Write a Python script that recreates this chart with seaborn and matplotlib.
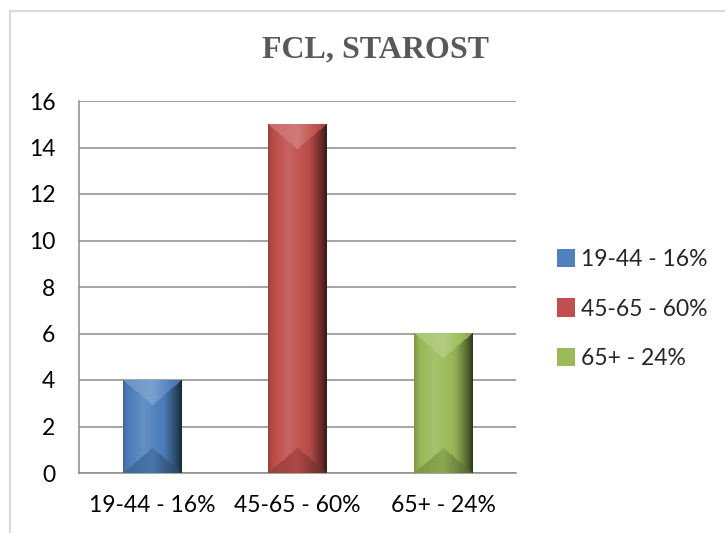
import numpy as np
import matplotlib
matplotlib.use("Agg")
import matplotlib.pyplot as plt
from matplotlib.patches import Patch
from matplotlib.lines import Line2D
import seaborn as sns

# chart data
categories = ["19-44 - 16%", "45-65 - 60%", "65+ - 24%"]
values = [4, 15, 6]
bar_colors = ["#4F81BD", "#C0504D", "#9BBB59"]
title = "FCL, STAROST"

sns.set_theme(style="white")
plt.rcParams['font.family'] = ['Lato', 'DejaVu Sans']

W, H, DPI = 7.25, 5.33, 100
fig = plt.figure(figsize=(W, H), dpi=DPI)
ax = fig.add_axes([79 / 725, 60 / 533, 437 / 725, 372 / 533])

sns.barplot(x=categories, y=values, hue=categories, palette=bar_colors,
            width=0.4, legend=False, ax=ax, linewidth=0)

ax.set_ylim(0, 16)
ax.set_xlim(-0.5, len(categories) - 0.5)
ax.set_yticks(range(0, 17, 2))
ax.yaxis.grid(True, color="#8c8c8c", linewidth=1.1)
ax.set_axisbelow(True)
for side in ["top", "right"]:
    ax.spines[side].set_visible(False)
for side in ["left", "bottom"]:
    ax.spines[side].set_color("#8c8c8c")
    ax.spines[side].set_linewidth(1.1)
ax.tick_params(axis="y", length=0, pad=17, labelsize=16.5, labelcolor="black")
ax.tick_params(axis="x", length=0, pad=16, labelsize=16.5, labelcolor="black")
ax.set_xlabel("")
ax.set_ylabel("")


def shade(rgb, k):
    rgb = np.asarray(rgb)
    if k >= 1:
        return rgb + (1 - rgb) * (k - 1)
    return rgb * k


# bevelled look, painted over each bar seaborn drew
px_x = 437 / (len(categories))          # pixels per x unit
px_y = 372 / 16                         # pixels per y unit
for patch, col in zip(ax.patches, bar_colors):
    x0, w, h = patch.get_x(), patch.get_width(), patch.get_height()
    nw = max(int(round(w * px_x)), 2)
    nh = max(int(round(h * px_y)), 2)
    base = np.array(matplotlib.colors.to_rgb(col))
    t = (np.arange(nw) + 0.5) / nw
    k = np.interp(t, [0, 0.08, 0.35, 0.7, 0.88, 1.0], [0.8, 0.95, 1.12, 0.95, 0.6, 0.3])
    img = np.zeros((nh, nw, 3))
    for i in range(nw):
        img[:, i] = shade(base, k[i])
    u = np.arange(nw) + 0.5
    v = np.arange(nh)[:, None] + 0.5
    half = np.minimum(u, nw - u) / (nw / 2)
    dt = min(25, nh / 2)
    top = v < dt * half
    bot = (nh - v) < dt * half
    ktop = np.interp(t, [0, 0.5, 1.0], [1.15, 1.25, 0.85])
    kbot = np.interp(t, [0, 0.5, 1.0], [0.8, 0.9, 0.5])
    for i in range(nw):
        img[top[:, i], i] = shade(base, ktop[i])
        img[bot[:, i], i] = shade(base, kbot[i])
    ax.imshow(np.clip(img, 0, 1), extent=[x0, x0 + w, 0, h], origin="upper",
              aspect="auto", zorder=3, interpolation="bilinear")

ax.set_ylim(0, 16)
ax.set_xlim(-0.5, len(categories) - 0.5)

handles = [Patch(facecolor=c, edgecolor="none", label=l) for c, l in zip(bar_colors, categories)]
fig.legend(handles=handles, loc="center left", bbox_to_anchor=(536 / 725, 1 - 309 / 533),
           frameon=False, fontsize=16.5, handlelength=0.8, handleheight=0.85,
           handletextpad=0.25, labelspacing=1.25)

fig.text(376 / 725, 1 - 50 / 533, title, ha="center", va="center",
         fontsize=23, fontweight="bold", color="#595959",
         family=["Liberation Serif", "DejaVu Serif"])

# light chart frame
fig.add_artist(Line2D([10 / 725, 10 / 725], [0, 1 - 11 / 533], color="#d9d9d9", linewidth=1.5))
fig.add_artist(Line2D([10 / 725, 1], [1 - 11 / 533, 1 - 11 / 533], color="#d9d9d9", linewidth=1.5))

fig.savefig("out.png", dpi=DPI, facecolor="white")
